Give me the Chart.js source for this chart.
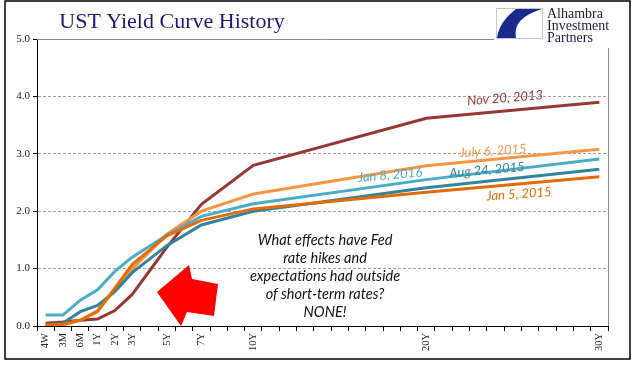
<!DOCTYPE html>
<html>
<head>
<meta charset="utf-8">
<script src="https://cdn.jsdelivr.net/npm/chart.js@4.4.1/dist/chart.umd.min.js"></script>
<style>
  html, body { margin: 0; padding: 0; background: #fff; }
  canvas { display: block; }
</style>
</head>
<body>
<canvas id="yieldChart" width="641" height="381"></canvas>
<script>
// Maturities and their slot on the Excel category axis (33 slots, 4W..30Y)
const maturities = ['4W', '3M', '6M', '1Y', '2Y', '3Y', '5Y', '7Y', '10Y', '20Y', '30Y'];
const slotIndex = [0, 1, 2, 3, 4, 5, 7, 9, 12, 22, 32];
const slotCount = 33;

// Yields (%)
const jan5_2015  = [0.02, 0.03, 0.10, 0.25, 0.66, 1.07, 1.57, 1.84, 2.04, 2.33, 2.60];
const aug24_2015 = [0.02, 0.05, 0.25, 0.36, 0.60, 0.93, 1.40, 1.76, 2.00, 2.41, 2.73];
const jan8_2016  = [0.19, 0.19, 0.45, 0.63, 0.95, 1.20, 1.58, 1.91, 2.13, 2.55, 2.91];
const jul6_2015  = [0.01, 0.02, 0.10, 0.27, 0.63, 0.99, 1.60, 2.00, 2.30, 2.79, 3.08];
const nov20_2013 = [0.05, 0.07, 0.10, 0.12, 0.27, 0.55, 1.37, 2.12, 2.80, 3.62, 3.90];

const yTicks = [0, 1, 2, 3, 4, 5];

// spread values onto the 33 slots
function toSlots(values) {
    const out = new Array(slotCount).fill(null);
    slotIndex.forEach((s, i) => { out[s] = values[i]; });
    return out;
}
const labels = toSlots(maturities).map(l => l === null ? '' : l);

const series = [
    { label: 'Jan 5, 2015',  data: jan5_2015,  color: '#e36c0a' },
    { label: 'Aug 24, 2015', data: aug24_2015, color: '#31849b' },
    { label: 'Jan 8, 2016',  data: jan8_2016,  color: '#4bacc6' },
    { label: 'July 6, 2015', data: jul6_2015,  color: '#f79646' },
    { label: 'Nov 20, 2013', data: nov20_2013, color: '#953735' }
];

// decorations: frame, title, line labels, note, arrow, logo
const decorations = {
    id: 'decorations',
    beforeDraw(chart) {
        const ctx = chart.ctx;
        ctx.save();
        ctx.fillStyle = '#fff';
        ctx.fillRect(0, 0, chart.width, chart.height);
        ctx.strokeStyle = '#000';
        ctx.lineWidth = 1.5;
        ctx.strokeRect(5, 1, 625, 358);
        ctx.fillStyle = '#1b1b72';
        ctx.font = '22px "Liberation Serif", "DejaVu Serif", serif';
        ctx.textAlign = 'center';
        ctx.textBaseline = 'alphabetic';
        ctx.fillText('UST Yield Curve History', 172, 28);
        ctx.restore();
    },
    afterDraw(chart) {
        const ctx = chart.ctx;
        const area = chart.chartArea;
        ctx.save();

        // solid top gridline and grey right edge
        ctx.strokeStyle = '#8c8c8c';
        ctx.lineWidth = 1;
        ctx.beginPath();
        ctx.moveTo(area.left, Math.round(area.top) + 0.5);
        ctx.lineTo(area.right, Math.round(area.top) + 0.5);
        ctx.moveTo(Math.round(area.right) + 0.5, 48);
        ctx.lineTo(Math.round(area.right) + 0.5, area.bottom);
        ctx.stroke();

        // line labels
        const tags = [
            ['Nov 20, 2013', '#953735', 505, 98, -4.5],
            ['July 6, 2015', '#f79646', 493, 151, -3.5],
            ['Aug 24, 2015', '#31849b', 487, 170, -5],
            ['Jan 8, 2016',  '#4bacc6', 390, 175, -5],
            ['Jan 5, 2015',  '#e36c0a', 519, 194, -4]
        ];
        ctx.font = 'italic 13px Lato, "Open Sans", sans-serif';
        ctx.textAlign = 'center';
        ctx.textBaseline = 'middle';
        tags.forEach(([txt, col, x, y, deg]) => {
            ctx.save();
            ctx.translate(x, y);
            ctx.rotate(deg * Math.PI / 180);
            ctx.fillStyle = col;
            ctx.fillText(txt, 0, 0);
            ctx.restore();
        });

        // note
        const note = ['What effects have Fed', 'rate hikes and', 'expectations had outside',
                      'of short-term rates?', 'NONE!'];
        ctx.font = 'italic 14.5px Lato, "Open Sans", sans-serif';
        ctx.fillStyle = '#111';
        note.forEach((t, i) => ctx.fillText(t, 325, 240 + i * 18));

        // red arrow
        ctx.fillStyle = '#ff0000';
        ctx.beginPath();
        ctx.moveTo(157, 292);
        ctx.lineTo(189, 265);
        ctx.lineTo(192, 279);
        ctx.lineTo(218, 284);
        ctx.lineTo(214, 316);
        ctx.lineTo(187, 312);
        ctx.lineTo(181, 326);
        ctx.closePath();
        ctx.fill();

        // logo
        ctx.fillStyle = '#fff';
        ctx.fillRect(494, 4, 134, 40);
        ctx.strokeStyle = '#c8c8c8';
        ctx.lineWidth = 1;
        ctx.strokeRect(496.5, 8.5, 46, 30);
        ctx.fillStyle = '#1a2a8c';
        ctx.beginPath();
        ctx.moveTo(516, 9);
        ctx.lineTo(542, 9);
        ctx.quadraticCurveTo(512, 18, 516, 38);
        ctx.lineTo(497, 38);
        ctx.quadraticCurveTo(499, 22, 516, 9);
        ctx.closePath();
        ctx.fill();
        ctx.fillStyle = '#1c1c3c';
        ctx.font = '14px "Liberation Serif", "DejaVu Serif", serif';
        ctx.textAlign = 'left';
        ctx.textBaseline = 'alphabetic';
        ctx.fillText('Alhambra', 547, 18);
        ctx.fillText('Investment', 547, 30);
        ctx.fillText('Partners', 547, 42);

        ctx.restore();
    }
};

const ctx = document.getElementById('yieldChart').getContext('2d');
const chart = new Chart(ctx, {
    type: 'line',
    data: {
        labels: labels,
        datasets: series.map(s => ({
            label: s.label,
            data: toSlots(s.data),
            borderColor: s.color,
            backgroundColor: s.color,
            borderWidth: 3,
            pointRadius: 0,
            tension: 0,
            spanGaps: true,
            fill: false
        }))
    },
    options: {
        responsive: false,
        animation: false,
        devicePixelRatio: 1,
        layout: { padding: { left: 0, top: 39, right: 33, bottom: 0 } },
        plugins: {
            legend: { display: false },
            tooltip: { enabled: false }
        },
        scales: {
            x: {
                type: 'category',
                offset: true,
                afterFit: scale => { scale.height = 55; },
                grid: {
                    offset: true,
                    drawOnChartArea: false,
                    tickLength: 5,
                    tickColor: '#000'
                },
                border: { color: '#000', width: 1 },
                ticks: {
                    autoSkip: false,
                    maxRotation: 90,
                    minRotation: 90,
                    padding: 2,
                    color: '#222',
                    font: { family: '"Liberation Serif", "DejaVu Serif", serif', size: 10.5 }
                }
            },
            y: {
                min: 0,
                max: 5,
                afterFit: scale => { scale.width = 37; },
                afterBuildTicks: scale => { scale.ticks = yTicks.map(v => ({ value: v })); },
                grid: {
                    color: '#a0a0a0',
                    lineWidth: 1,
                    tickLength: 4,
                    tickColor: '#000'
                },
                border: { color: '#000', width: 1, dash: [3, 2] },
                ticks: {
                    padding: 3,
                    color: '#222',
                    font: { family: '"Liberation Serif", "DejaVu Serif", serif', size: 11 },
                    callback: v => Number(v).toFixed(1)
                }
            }
        }
    },
    plugins: [decorations]
});
</script>
</body>
</html>
